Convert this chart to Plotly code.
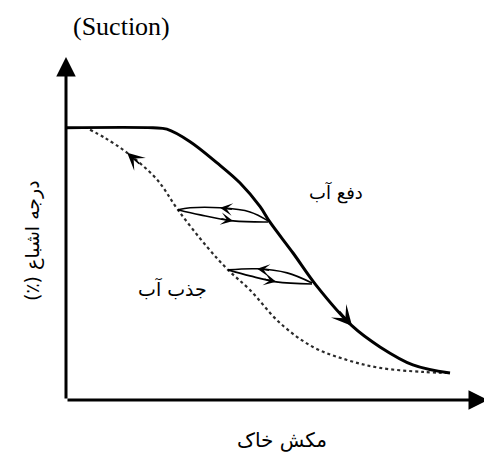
import math
import plotly.graph_objects as go

# ---- data (suction in arbitrary units, saturation in %) ----
drying_x = [0, 20.6, 23.9, 29.4, 35.8, 41.2, 46.0, 48.3, 53.8, 59.2, 67.8, 74.4, 82.2, 91.0]
drying_y = [100, 100, 99.5, 94.9, 87.1, 79.8, 71.0, 65.4, 54.0, 42.3, 27.2, 19.5, 12.9, 9.9]

wetting_x = [5.7, 9.2, 14.5, 21.6, 26.5, 33.4, 38.4, 43.6, 50.7, 58.5, 66.6, 74.4, 84.6, 91.0]
wetting_y = [99.3, 96.3, 90.8, 80.9, 69.9, 56.3, 47.8, 40.4, 28.3, 19.5, 14.7, 11.8, 10.3, 9.9]

scan1_wet_x = [47.9, 43.6, 36.5, 29.4, 26.5]
scan1_wet_y = [65.8, 69.1, 70.6, 70.6, 69.9]
scan1_dry_x = [26.5, 31.8, 39.6, 47.9]
scan1_dry_y = [69.9, 68.0, 65.8, 65.4]

scan2_wet_x = [58.3, 52.4, 45.3, 38.4]
scan2_wet_y = [43.0, 46.7, 48.2, 47.8]
scan2_dry_x = [38.4, 43.6, 49.8, 58.3]
scan2_dry_y = [47.8, 45.6, 43.4, 42.6]

x_label = "مکش خاک"
y_label = "\u202bدرجه اشباع (٪)\u202c"
top_label = "(Suction)"
drying_label = "دفع آب"
wetting_label = "جذب آب"

# ---- layout constants ----
OFF = 8  # page body margin of the html page
W, H = 492, 455
ML, MR, MT, MB = 66, 4, 57, 55
XR = [0, 100]
YR = [0, 126]
PW = W - ML - MR
PH = H - MT - MB
SX = PW / (XR[1] - XR[0])
SY = PH / (YR[1] - YR[0])

fig = go.Figure()

fig.add_trace(go.Scatter(x=wetting_x, y=wetting_y, mode="lines",
                         line=dict(color="#2a2a2a", width=2.2, dash="dot", shape="spline", smoothing=1.0),
                         hoverinfo="skip"))
fig.add_trace(go.Scatter(x=drying_x, y=drying_y, mode="lines",
                         line=dict(color="black", width=3, shape="spline", smoothing=1.0),
                         hoverinfo="skip"))
for sx_, sy_ in [(scan1_wet_x, scan1_wet_y), (scan1_dry_x, scan1_dry_y),
                 (scan2_wet_x, scan2_wet_y), (scan2_dry_x, scan2_dry_y)]:
    fig.add_trace(go.Scatter(x=sx_, y=sy_, mode="lines",
                             line=dict(color="black", width=1.6, shape="spline", smoothing=1.0),
                             hoverinfo="skip"))

annotations = []

def curve_arrow(xs, ys, i, j, size, width):
    # arrow tip at point i, pointing away from point j
    dx = (xs[j] - xs[i]) * SX
    dy = -(ys[j] - ys[i]) * SY
    n = math.hypot(dx, dy)
    L = 6 * width * size + 1
    annotations.append(dict(x=xs[i], y=ys[i], xref="x", yref="y", text="",
                            showarrow=True, arrowhead=3, arrowsize=size, arrowwidth=width,
                            arrowcolor="black", ax=dx / n * L, ay=dy / n * L,
                            standoff=0, startstandoff=0))

curve_arrow(drying_x, drying_y, 10, 9, 1.7, 2)
curve_arrow(wetting_x, wetting_y, 2, 3, 1.8, 1.6)
curve_arrow(scan1_wet_x, scan1_wet_y, 2, 1, 1.6, 1.3)
curve_arrow(scan1_dry_x, scan1_dry_y, 2, 1, 1.6, 1.3)
curve_arrow(scan2_wet_x, scan2_wet_y, 2, 1, 1.6, 1.3)
curve_arrow(scan2_dry_x, scan2_dry_y, 2, 1, 1.6, 1.3)

# axes with arrows
annotations.append(dict(x=XR[1], y=YR[0], ax=XR[0], ay=YR[0], xref="x", yref="y",
                        axref="x", ayref="y", text="", showarrow=True, arrowhead=2,
                        arrowsize=1.3, arrowwidth=3, arrowcolor="black", standoff=0))
annotations.append(dict(x=XR[0], y=YR[1], ax=XR[0], ay=YR[0], xref="x", yref="y",
                        axref="x", ayref="y", text="", showarrow=True, arrowhead=2,
                        arrowsize=1.3, arrowwidth=3, arrowcolor="black", standoff=0))

def px_to_paper(px, py):
    return (px - ML) / PW, (H - MB - py) / PH

def label(px, py, text, family, size, angle=0):
    x, y = px_to_paper(px, py)
    annotations.append(dict(x=x, y=y, xref="paper", yref="paper", text=text, showarrow=False,
                            xanchor="center", yanchor="middle", textangle=angle,
                            font=dict(family=family, size=size, color="black")))

label(121, 27, top_label, "Liberation Serif, Times New Roman, serif", 26)
label(336, 192, drying_label, "DejaVu Sans", 18)
label(172, 288, wetting_label, "DejaVu Sans", 19)
label(282, 440, x_label, "DejaVu Sans", 20)
label(32, 241, y_label, "DejaVu Sans", 19, angle=-90)

fig.update_layout(
    width=W - OFF, height=H - OFF,
    margin=dict(l=ML - OFF, r=MR, t=MT - OFF, b=MB),
    paper_bgcolor="white", plot_bgcolor="white",
    showlegend=False,
    xaxis=dict(range=XR, visible=False),
    yaxis=dict(range=YR, visible=False),
    annotations=annotations,
    hovermode=False,
)

fig.write_html("out.html", config={"displayModeBar": False})
